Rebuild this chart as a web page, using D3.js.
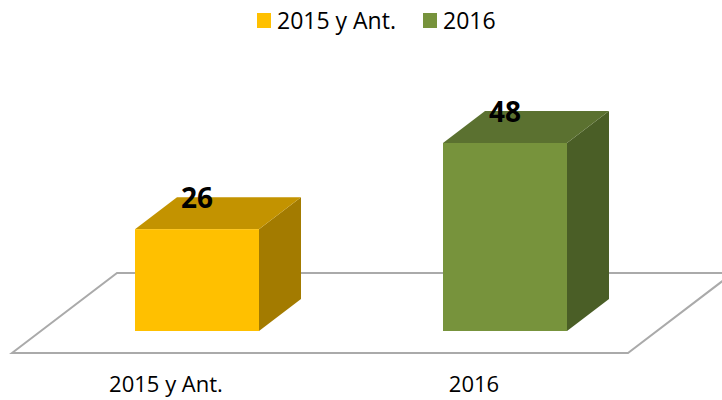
<!DOCTYPE html>
<html>
<head>
<meta charset="utf-8">
<script src="https://cdn.jsdelivr.net/npm/d3@7"></script>
<style>
	body { margin: 0; background: #fff; }
	text { font-family: "Open Sans", sans-serif; }
</style>
</head>
<body>
<div id="chart"></div>
<script>
const categories = ["2015 y Ant.", "2016"];
const values = [26, 48];
const frontColors = ["#FFC000", "#77933C"];
const topColors = ["#C39300", "#5B7130"];
const sideColors = ["#A37B00", "#4A5E26"];

const [width, height] = [722, 400];
const floor = { front: 353, back: 273, left: 12, right: 628, dx: 105 };
const bar = { w: 124, dx: 42, dy: -32, shift: 31, base: 331 };

const svg = d3.select("#chart").append("svg").attr("width", width).attr("height", height);

const x = d3.scaleBand().domain(categories).range([floor.left, floor.right]);
const y = d3.scaleLinear().domain([0, 48]).range([bar.base, 143]);

// floor plane
svg.append("polygon")
	.attr("points", [
		[floor.left, floor.front],
		[floor.left + floor.dx, floor.back],
		[floor.right + floor.dx, floor.back],
		[floor.right, floor.front]
	].join(" "))
	.attr("fill", "#fff")
	.attr("stroke", "#AAAAAA")
	.attr("stroke-width", 2);

const bars = svg.append("g").selectAll("g").data(values).enter().append("g");

const x0 = (d, i) => x(categories[i]) + x.bandwidth()/2 + bar.shift - bar.w/2;

// right side
bars.append("polygon")
	.attr("points", (d, i) => {
		const l = x0(d, i) + bar.w;
		return [[l, y(d)], [l + bar.dx, y(d) + bar.dy], [l + bar.dx, y(0) + bar.dy], [l, y(0)]].join(" ");
	})
	.attr("fill", (d, i) => sideColors[i]);

// top
bars.append("polygon")
	.attr("points", (d, i) => {
		const l = x0(d, i);
		return [[l, y(d)], [l + bar.dx, y(d) + bar.dy], [l + bar.w + bar.dx, y(d) + bar.dy], [l + bar.w, y(d)]].join(" ");
	})
	.attr("fill", (d, i) => topColors[i]);

// front
bars.append("rect")
	.attr("x", x0)
	.attr("y", d => y(d))
	.attr("width", bar.w)
	.attr("height", d => y(0) - y(d))
	.attr("fill", (d, i) => frontColors[i]);

// value labels
bars.append("text")
	.attr("x", (d, i) => x0(d, i) + bar.w/2)
	.attr("y", d => y(d) - 21)
	.attr("text-anchor", "middle")
	.attr("font-size", 28)
	.attr("font-weight", "bold")
	.attr("fill", "#000")
	.text(d => d);

// category labels
svg.append("g").selectAll("text").data(categories).enter().append("text")
	.attr("x", d => x(d) + x.bandwidth()/2)
	.attr("y", 392)
	.attr("text-anchor", "middle")
	.attr("font-size", 22)
	.attr("fill", "#000")
	.text(d => d);

// legend
const legendX = [257, 423];
const legend = svg.append("g").selectAll("g").data(categories).enter().append("g")
	.attr("transform", (d, i) => `translate(${legendX[i]}, 0)`);
legend.append("rect")
	.attr("x", 0).attr("y", 13).attr("width", 14).attr("height", 15)
	.attr("fill", (d, i) => frontColors[i]);
legend.append("text")
	.attr("x", 20).attr("y", 29)
	.attr("font-size", 23)
	.attr("fill", "#000")
	.text(d => d);
</script>
</body>
</html>
